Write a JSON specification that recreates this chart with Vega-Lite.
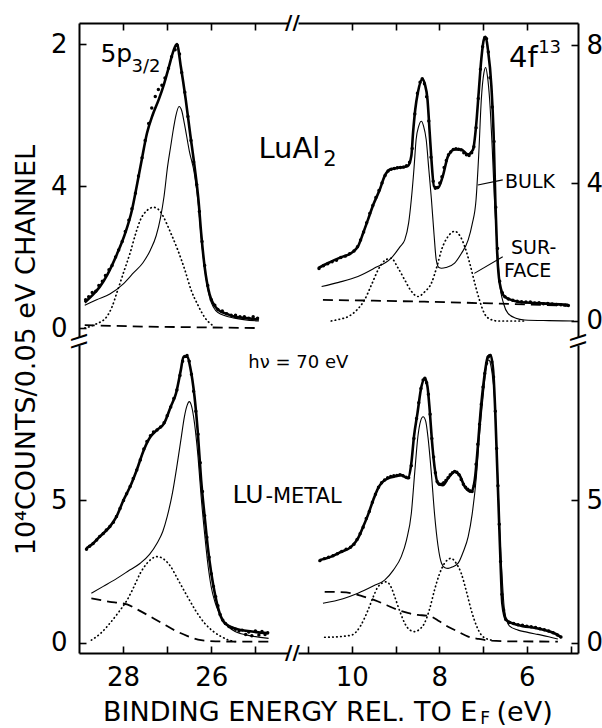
{
"$schema":"https://vega.github.io/schema/vega-lite/v6.json",
"background":"white",
"padding":{"left":12,"top":13,"right":5,"bottom":5},
"bounds":"flush",
"columns":2,
"spacing":{"row":8,"column":10},
"config":{
 "view":{"stroke":null},
 "font":"DejaVu Sans",
 "text":{"color":"black"},
 "line":{"color":"black"},
 "axis":{"domainColor":"black","domainWidth":2,"tickColor":"black","tickWidth":1.6,"tickSize":-7,"labelColor":"black","labelFont":"DejaVu Sans","labelFontSize":26,"grid":false,"labelFlush":false,"labelOverlap":false}
},
"datasets":{
 "TL_fit":[{"E":28.87,"V":0.18},{"E":28.7,"V":0.23},{"E":28.53,"V":0.29},{"E":28.35,"V":0.38},{"E":28.14,"V":0.52},{"E":27.95,"V":0.67},{"E":27.8,"V":0.83},{"E":27.69,"V":1.0},{"E":27.58,"V":1.18},{"E":27.46,"V":1.37},{"E":27.33,"V":1.5},{"E":27.19,"V":1.61},{"E":27.07,"V":1.72},{"E":26.96,"V":1.84},{"E":26.86,"V":1.95},{"E":26.78,"V":2.0},{"E":26.69,"V":1.84},{"E":26.58,"V":1.61},{"E":26.48,"V":1.37},{"E":26.38,"V":1.14},{"E":26.29,"V":0.9},{"E":26.23,"V":0.67},{"E":26.15,"V":0.43},{"E":26.04,"V":0.24},{"E":25.85,"V":0.13},{"E":25.65,"V":0.1},{"E":25.47,"V":0.08},{"E":25.2,"V":0.07},{"E":24.92,"V":0.06}],
 "TL_bulk":[{"E":28.87,"V":0.16},{"E":28.6,"V":0.2},{"E":28.3,"V":0.24},{"E":28.0,"V":0.31},{"E":27.76,"V":0.39},{"E":27.55,"V":0.46},{"E":27.38,"V":0.55},{"E":27.25,"V":0.65},{"E":27.15,"V":0.78},{"E":27.07,"V":0.93},{"E":26.99,"V":1.14},{"E":26.92,"V":1.28},{"E":26.86,"V":1.4},{"E":26.8,"V":1.5},{"E":26.73,"V":1.56},{"E":26.67,"V":1.53},{"E":26.61,"V":1.44},{"E":26.5,"V":1.25},{"E":26.38,"V":1.08},{"E":26.29,"V":0.86},{"E":26.23,"V":0.64},{"E":26.15,"V":0.42},{"E":26.04,"V":0.22},{"E":25.85,"V":0.11},{"E":25.47,"V":0.07},{"E":24.92,"V":0.05}],
 "TL_surf":[{"E":28.87,"V":0.0},{"E":28.6,"V":0.03},{"E":28.37,"V":0.08},{"E":28.25,"V":0.15},{"E":28.14,"V":0.25},{"E":27.98,"V":0.4},{"E":27.84,"V":0.53},{"E":27.72,"V":0.66},{"E":27.61,"V":0.76},{"E":27.45,"V":0.83},{"E":27.31,"V":0.85},{"E":27.18,"V":0.83},{"E":27.08,"V":0.78},{"E":26.92,"V":0.67},{"E":26.76,"V":0.55},{"E":26.6,"V":0.41},{"E":26.46,"V":0.27},{"E":26.3,"V":0.16},{"E":26.16,"V":0.08},{"E":25.93,"V":0.01}],
 "TL_bg":[{"E":28.87,"V":0.02},{"E":27.5,"V":0.01},{"E":24.92,"V":0.0}],
 "TL_pts":[{"E":28.85,"V":0.2},{"E":28.78,"V":0.22},{"E":28.7,"V":0.25},{"E":28.62,"V":0.26},{"E":28.55,"V":0.3},{"E":28.47,"V":0.33},{"E":28.4,"V":0.37},{"E":28.32,"V":0.41},{"E":28.25,"V":0.44},{"E":28.17,"V":0.5},{"E":28.1,"V":0.55},{"E":28.02,"V":0.61},{"E":27.95,"V":0.68},{"E":27.87,"V":0.76},{"E":27.8,"V":0.84},{"E":27.72,"V":0.95},{"E":27.65,"V":1.07},{"E":27.57,"V":1.2},{"E":27.5,"V":1.32},{"E":27.42,"V":1.44},{"E":27.35,"V":1.55},{"E":27.27,"V":1.63},{"E":27.2,"V":1.68},{"E":27.12,"V":1.71},{"E":27.05,"V":1.76},{"E":26.97,"V":1.83},{"E":26.9,"V":1.91},{"E":26.82,"V":1.96},{"E":26.77,"V":1.99},{"E":26.72,"V":1.93},{"E":26.67,"V":1.8},{"E":26.6,"V":1.66},{"E":26.53,"V":1.49},{"E":26.46,"V":1.32},{"E":26.4,"V":1.17},{"E":26.33,"V":1.01},{"E":26.27,"V":0.82},{"E":26.21,"V":0.61},{"E":26.15,"V":0.44},{"E":26.08,"V":0.3},{"E":26.0,"V":0.2},{"E":25.92,"V":0.16},{"E":25.85,"V":0.13},{"E":25.75,"V":0.12},{"E":25.65,"V":0.1},{"E":25.55,"V":0.09},{"E":25.45,"V":0.09},{"E":25.35,"V":0.08},{"E":25.25,"V":0.08},{"E":25.15,"V":0.07},{"E":25.05,"V":0.08},{"E":24.95,"V":0.07}],
 "TR_fit":[{"E":10.77,"V":1.53},{"E":10.54,"V":1.68},{"E":10.24,"V":1.85},{"E":10.01,"V":1.97},{"E":9.86,"V":2.16},{"E":9.74,"V":2.55},{"E":9.63,"V":2.94},{"E":9.51,"V":3.37},{"E":9.36,"V":3.81},{"E":9.25,"V":4.2},{"E":9.13,"V":4.39},{"E":8.94,"V":4.44},{"E":8.72,"V":4.49},{"E":8.64,"V":4.78},{"E":8.6,"V":5.46},{"E":8.55,"V":6.13},{"E":8.49,"V":6.62},{"E":8.39,"V":7.01},{"E":8.33,"V":6.86},{"E":8.27,"V":6.42},{"E":8.22,"V":5.46},{"E":8.18,"V":4.68},{"E":8.12,"V":3.9},{"E":8.03,"V":3.86},{"E":7.92,"V":4.2},{"E":7.8,"V":4.78},{"E":7.65,"V":4.97},{"E":7.5,"V":4.97},{"E":7.35,"V":4.83},{"E":7.23,"V":4.97},{"E":7.16,"V":5.65},{"E":7.1,"V":6.62},{"E":7.04,"V":7.59},{"E":6.98,"V":8.17},{"E":6.94,"V":8.24},{"E":6.89,"V":7.88},{"E":6.81,"V":6.81},{"E":6.76,"V":5.46},{"E":6.72,"V":3.52},{"E":6.68,"V":2.06},{"E":6.62,"V":1.1},{"E":6.51,"V":0.71},{"E":6.2,"V":0.56},{"E":5.67,"V":0.51},{"E":5.06,"V":0.47}],
 "TR_bulk":[{"E":10.69,"V":1.0},{"E":10.3,"V":1.12},{"E":9.86,"V":1.29},{"E":9.5,"V":1.52},{"E":9.1,"V":1.82},{"E":8.9,"V":2.15},{"E":8.79,"V":2.35},{"E":8.7,"V":2.85},{"E":8.64,"V":3.52},{"E":8.58,"V":4.4},{"E":8.53,"V":5.26},{"E":8.47,"V":5.65},{"E":8.41,"V":5.79},{"E":8.36,"V":5.65},{"E":8.3,"V":5.26},{"E":8.24,"V":4.4},{"E":8.18,"V":3.52},{"E":8.12,"V":2.5},{"E":8.07,"V":1.77},{"E":8.01,"V":1.55},{"E":7.95,"V":1.53},{"E":7.85,"V":1.55},{"E":7.65,"V":1.68},{"E":7.5,"V":1.95},{"E":7.34,"V":2.35},{"E":7.25,"V":2.8},{"E":7.16,"V":3.52},{"E":7.1,"V":4.8},{"E":7.04,"V":6.42},{"E":6.98,"V":7.2},{"E":6.94,"V":7.35},{"E":6.9,"V":7.1},{"E":6.85,"V":6.42},{"E":6.79,"V":5.0},{"E":6.74,"V":3.52},{"E":6.68,"V":2.2},{"E":6.62,"V":1.1},{"E":6.53,"V":0.5},{"E":6.43,"V":0.22},{"E":6.25,"V":0.08},{"E":6.05,"V":0.03},{"E":5.5,"V":0.01},{"E":4.92,"V":0.0}],
 "TR_surf":[{"E":10.47,"V":0.0},{"E":10.28,"V":0.05},{"E":10.08,"V":0.13},{"E":9.9,"V":0.3},{"E":9.71,"V":0.61},{"E":9.55,"V":1.05},{"E":9.4,"V":1.48},{"E":9.25,"V":1.75},{"E":9.1,"V":1.82},{"E":8.95,"V":1.55},{"E":8.79,"V":1.19},{"E":8.65,"V":0.88},{"E":8.49,"V":0.71},{"E":8.33,"V":0.85},{"E":8.18,"V":1.1},{"E":8.05,"V":1.6},{"E":7.95,"V":2.06},{"E":7.8,"V":2.45},{"E":7.65,"V":2.6},{"E":7.52,"V":2.45},{"E":7.42,"V":2.16},{"E":7.3,"V":1.65},{"E":7.19,"V":1.1},{"E":7.08,"V":0.6},{"E":6.97,"V":0.22},{"E":6.85,"V":0.06},{"E":6.66,"V":0.0},{"E":6.05,"V":0.0}],
 "TR_bg":[{"E":10.66,"V":0.61},{"E":9.5,"V":0.59},{"E":8.34,"V":0.56},{"E":6.81,"V":0.51},{"E":5.06,"V":0.44}],
 "TR_pts":[{"E":10.75,"V":1.52},{"E":10.65,"V":1.6},{"E":10.55,"V":1.66},{"E":10.45,"V":1.72},{"E":10.35,"V":1.76},{"E":10.25,"V":1.84},{"E":10.15,"V":1.88},{"E":10.05,"V":1.95},{"E":9.95,"V":2.03},{"E":9.87,"V":2.15},{"E":9.8,"V":2.35},{"E":9.73,"V":2.58},{"E":9.66,"V":2.85},{"E":9.59,"V":3.12},{"E":9.52,"V":3.35},{"E":9.45,"V":3.58},{"E":9.38,"V":3.78},{"E":9.31,"V":4.0},{"E":9.24,"V":4.22},{"E":9.17,"V":4.35},{"E":9.1,"V":4.4},{"E":9.03,"V":4.42},{"E":8.96,"V":4.44},{"E":8.89,"V":4.45},{"E":8.82,"V":4.46},{"E":8.75,"V":4.5},{"E":8.68,"V":4.6},{"E":8.62,"V":5.0},{"E":8.56,"V":6.0},{"E":8.5,"V":6.6},{"E":8.44,"V":6.92},{"E":8.39,"V":7.02},{"E":8.34,"V":6.88},{"E":8.29,"V":6.5},{"E":8.24,"V":5.8},{"E":8.19,"V":4.75},{"E":8.14,"V":4.05},{"E":8.09,"V":3.85},{"E":8.04,"V":3.87},{"E":7.99,"V":4.0},{"E":7.94,"V":4.18},{"E":7.89,"V":4.45},{"E":7.84,"V":4.65},{"E":7.79,"V":4.82},{"E":7.74,"V":4.9},{"E":7.68,"V":4.97},{"E":7.62,"V":4.99},{"E":7.56,"V":4.98},{"E":7.5,"V":4.96},{"E":7.44,"V":4.88},{"E":7.38,"V":4.82},{"E":7.32,"V":4.8},{"E":7.26,"V":4.88},{"E":7.21,"V":5.05},{"E":7.16,"V":5.6},{"E":7.11,"V":6.45},{"E":7.06,"V":7.3},{"E":7.01,"V":7.95},{"E":6.96,"V":8.22},{"E":6.92,"V":8.18},{"E":6.88,"V":7.8},{"E":6.84,"V":7.05},{"E":6.79,"V":6.2},{"E":6.75,"V":5.2},{"E":6.71,"V":3.3},{"E":6.67,"V":2.1},{"E":6.62,"V":1.15},{"E":6.56,"V":0.82},{"E":6.5,"V":0.7},{"E":6.42,"V":0.64},{"E":6.32,"V":0.6},{"E":6.22,"V":0.57},{"E":6.12,"V":0.56},{"E":6.02,"V":0.55},{"E":5.92,"V":0.55},{"E":5.82,"V":0.52},{"E":5.72,"V":0.53},{"E":5.62,"V":0.5},{"E":5.52,"V":0.51},{"E":5.42,"V":0.49},{"E":5.32,"V":0.48},{"E":5.22,"V":0.47},{"E":5.12,"V":0.46},{"E":5.05,"V":0.45}],
 "BL_fit":[{"E":28.835,"V":3.31},{"E":28.68,"V":3.48},{"E":28.53,"V":3.72},{"E":28.3,"V":4.07},{"E":28.15,"V":4.42},{"E":27.99,"V":5.0},{"E":27.84,"V":5.47},{"E":27.69,"V":6.05},{"E":27.53,"V":6.75},{"E":27.38,"V":7.21},{"E":27.23,"V":7.45},{"E":27.07,"V":7.68},{"E":26.92,"V":8.26},{"E":26.8,"V":8.73},{"E":26.69,"V":9.55},{"E":26.63,"V":10.01},{"E":26.54,"V":10.01},{"E":26.48,"V":9.66},{"E":26.38,"V":8.61},{"E":26.31,"V":7.45},{"E":26.23,"V":5.7},{"E":26.15,"V":4.42},{"E":26.08,"V":3.37},{"E":26.0,"V":2.44},{"E":25.92,"V":1.74},{"E":25.81,"V":1.04},{"E":25.69,"V":0.69},{"E":25.46,"V":0.51},{"E":25.08,"V":0.4},{"E":24.7,"V":0.34}],
 "BL_bulk":[{"E":28.72,"V":1.74},{"E":28.45,"V":1.98},{"E":28.14,"V":2.26},{"E":27.85,"V":2.55},{"E":27.61,"V":2.79},{"E":27.4,"V":3.1},{"E":27.23,"V":3.49},{"E":27.1,"V":3.9},{"E":27.0,"V":4.42},{"E":26.88,"V":5.25},{"E":26.77,"V":6.28},{"E":26.68,"V":7.2},{"E":26.61,"V":7.91},{"E":26.55,"V":8.3},{"E":26.5,"V":8.44},{"E":26.45,"V":8.3},{"E":26.38,"V":7.68},{"E":26.3,"V":6.5},{"E":26.23,"V":5.12},{"E":26.15,"V":3.8},{"E":26.08,"V":2.79},{"E":26.0,"V":1.95},{"E":25.92,"V":1.45},{"E":25.85,"V":1.15},{"E":25.7,"V":0.72},{"E":25.46,"V":0.4},{"E":25.1,"V":0.25},{"E":24.7,"V":0.16}],
 "BL_surf":[{"E":28.72,"V":0.1},{"E":28.5,"V":0.35},{"E":28.3,"V":0.69},{"E":28.1,"V":1.08},{"E":27.91,"V":1.5},{"E":27.75,"V":1.98},{"E":27.61,"V":2.44},{"E":27.45,"V":2.8},{"E":27.23,"V":3.02},{"E":27.05,"V":2.9},{"E":26.92,"V":2.67},{"E":26.75,"V":2.2},{"E":26.54,"V":1.62},{"E":26.35,"V":1.12},{"E":26.15,"V":0.69},{"E":25.95,"V":0.4},{"E":25.77,"V":0.22},{"E":25.6,"V":0.1},{"E":25.46,"V":0.05}],
 "BL_bg":[{"E":28.72,"V":1.56},{"E":28.5,"V":1.5},{"E":28.3,"V":1.44},{"E":28.1,"V":1.4},{"E":27.91,"V":1.35},{"E":27.65,"V":1.15},{"E":27.38,"V":0.92},{"E":27.1,"V":0.68},{"E":26.84,"V":0.45},{"E":26.55,"V":0.25},{"E":26.23,"V":0.1},{"E":25.9,"V":0.06},{"E":25.46,"V":0.05},{"E":24.7,"V":0.05}],
 "BL_pts":[{"E":28.83,"V":3.28},{"E":28.76,"V":3.38},{"E":28.68,"V":3.48},{"E":28.6,"V":3.6},{"E":28.53,"V":3.72},{"E":28.45,"V":3.83},{"E":28.38,"V":3.95},{"E":28.3,"V":4.07},{"E":28.22,"V":4.22},{"E":28.15,"V":4.42},{"E":28.07,"V":4.7},{"E":27.99,"V":4.98},{"E":27.92,"V":5.22},{"E":27.84,"V":5.47},{"E":27.77,"V":5.75},{"E":27.69,"V":6.05},{"E":27.61,"V":6.4},{"E":27.53,"V":6.78},{"E":27.46,"V":7.05},{"E":27.38,"V":7.25},{"E":27.31,"V":7.38},{"E":27.23,"V":7.45},{"E":27.15,"V":7.55},{"E":27.07,"V":7.7},{"E":27.0,"V":7.95},{"E":26.92,"V":8.25},{"E":26.85,"V":8.55},{"E":26.78,"V":8.85},{"E":26.71,"V":9.35},{"E":26.65,"V":9.85},{"E":26.6,"V":10.02},{"E":26.55,"V":10.05},{"E":26.5,"V":9.85},{"E":26.45,"V":9.4},{"E":26.4,"V":8.8},{"E":26.35,"V":8.1},{"E":26.3,"V":7.3},{"E":26.25,"V":6.3},{"E":26.2,"V":5.3},{"E":26.15,"V":4.45},{"E":26.1,"V":3.7},{"E":26.05,"V":3.0},{"E":26.0,"V":2.42},{"E":25.95,"V":1.98},{"E":25.9,"V":1.62},{"E":25.85,"V":1.3},{"E":25.8,"V":1.0},{"E":25.74,"V":0.8},{"E":25.68,"V":0.68},{"E":25.6,"V":0.58},{"E":25.52,"V":0.52},{"E":25.45,"V":0.48},{"E":25.37,"V":0.42},{"E":25.3,"V":0.45},{"E":25.22,"V":0.3},{"E":25.15,"V":0.38},{"E":25.08,"V":0.25},{"E":25.0,"V":0.42},{"E":24.92,"V":0.28},{"E":24.85,"V":0.4},{"E":24.78,"V":0.3},{"E":24.72,"V":0.36}],
 "BR_fit":[{"E":10.73,"V":2.9},{"E":10.47,"V":3.02},{"E":10.24,"V":3.19},{"E":10.01,"V":3.37},{"E":9.86,"V":3.66},{"E":9.74,"V":4.07},{"E":9.63,"V":4.48},{"E":9.51,"V":5.0},{"E":9.4,"V":5.41},{"E":9.29,"V":5.64},{"E":9.17,"V":5.76},{"E":9.02,"V":5.82},{"E":8.87,"V":5.87},{"E":8.72,"V":5.76},{"E":8.64,"V":6.28},{"E":8.58,"V":7.21},{"E":8.5,"V":8.03},{"E":8.41,"V":8.96},{"E":8.33,"V":9.25},{"E":8.27,"V":8.96},{"E":8.22,"V":8.15},{"E":8.17,"V":7.1},{"E":8.11,"V":6.17},{"E":8.03,"V":5.58},{"E":7.92,"V":5.52},{"E":7.8,"V":5.76},{"E":7.65,"V":5.99},{"E":7.54,"V":5.87},{"E":7.42,"V":5.47},{"E":7.27,"V":5.29},{"E":7.19,"V":5.7},{"E":7.12,"V":6.86},{"E":7.06,"V":8.03},{"E":6.98,"V":9.2},{"E":6.89,"V":10.01},{"E":6.83,"V":10.07},{"E":6.77,"V":9.55},{"E":6.72,"V":8.03},{"E":6.68,"V":6.28},{"E":6.64,"V":4.53},{"E":6.6,"V":2.79},{"E":6.56,"V":1.39},{"E":6.47,"V":0.8},{"E":6.2,"V":0.63},{"E":5.75,"V":0.51},{"E":5.37,"V":0.34},{"E":5.21,"V":0.2}],
 "BR_bulk":[{"E":10.66,"V":1.39},{"E":10.2,"V":1.55},{"E":9.86,"V":1.74},{"E":9.5,"V":2.0},{"E":9.25,"V":2.2},{"E":9.05,"V":2.55},{"E":8.87,"V":3.02},{"E":8.75,"V":3.6},{"E":8.64,"V":4.53},{"E":8.56,"V":6.0},{"E":8.49,"V":7.21},{"E":8.43,"V":7.75},{"E":8.37,"V":7.91},{"E":8.31,"V":7.75},{"E":8.26,"V":7.21},{"E":8.18,"V":5.9},{"E":8.11,"V":4.53},{"E":8.03,"V":3.4},{"E":7.95,"V":2.79},{"E":7.87,"V":2.63},{"E":7.8,"V":2.61},{"E":7.7,"V":2.66},{"E":7.57,"V":2.79},{"E":7.45,"V":3.2},{"E":7.34,"V":3.72},{"E":7.25,"V":4.5},{"E":7.16,"V":5.7},{"E":7.08,"V":7.3},{"E":7.0,"V":8.61},{"E":6.93,"V":9.6},{"E":6.87,"V":9.9},{"E":6.8,"V":9.5},{"E":6.74,"V":8.61},{"E":6.68,"V":6.4},{"E":6.62,"V":3.95},{"E":6.56,"V":2.2},{"E":6.51,"V":1.15},{"E":6.4,"V":0.6},{"E":6.2,"V":0.45},{"E":6.0,"V":0.38},{"E":5.75,"V":0.3},{"E":5.5,"V":0.22},{"E":5.29,"V":0.14}],
 "BR_surf":[{"E":10.62,"V":0.2},{"E":10.3,"V":0.22},{"E":10.0,"V":0.28},{"E":9.8,"V":0.6},{"E":9.63,"V":1.15},{"E":9.5,"V":1.65},{"E":9.4,"V":1.97},{"E":9.21,"V":2.14},{"E":9.1,"V":1.95},{"E":9.02,"V":1.62},{"E":8.9,"V":1.1},{"E":8.79,"V":0.69},{"E":8.67,"V":0.45},{"E":8.56,"V":0.4},{"E":8.45,"V":0.48},{"E":8.34,"V":0.69},{"E":8.22,"V":1.2},{"E":8.11,"V":1.85},{"E":8.0,"V":2.4},{"E":7.88,"V":2.79},{"E":7.73,"V":2.96},{"E":7.62,"V":2.8},{"E":7.5,"V":2.44},{"E":7.38,"V":1.8},{"E":7.27,"V":1.15},{"E":7.15,"V":0.6},{"E":7.04,"V":0.28},{"E":6.92,"V":0.15},{"E":6.81,"V":0.1}],
 "BR_bg":[{"E":10.62,"V":1.79},{"E":10.3,"V":1.78},{"E":10.0,"V":1.74},{"E":9.75,"V":1.63},{"E":9.48,"V":1.5},{"E":9.2,"V":1.32},{"E":8.94,"V":1.15},{"E":8.7,"V":1.04},{"E":8.49,"V":0.98},{"E":8.3,"V":0.96},{"E":8.18,"V":0.92},{"E":8.0,"V":0.76},{"E":7.8,"V":0.57},{"E":7.55,"V":0.38},{"E":7.34,"V":0.22},{"E":7.1,"V":0.14},{"E":6.81,"V":0.08},{"E":6.5,"V":0.06},{"E":5.29,"V":0.05}],
 "BR_pts":[{"E":10.73,"V":2.88},{"E":10.63,"V":2.95},{"E":10.53,"V":3.0},{"E":10.43,"V":3.05},{"E":10.33,"V":3.12},{"E":10.23,"V":3.2},{"E":10.13,"V":3.28},{"E":10.03,"V":3.35},{"E":9.95,"V":3.45},{"E":9.88,"V":3.62},{"E":9.81,"V":3.82},{"E":9.74,"V":4.05},{"E":9.67,"V":4.35},{"E":9.6,"V":4.6},{"E":9.53,"V":4.92},{"E":9.46,"V":5.2},{"E":9.39,"V":5.45},{"E":9.32,"V":5.6},{"E":9.25,"V":5.7},{"E":9.18,"V":5.78},{"E":9.11,"V":5.82},{"E":9.04,"V":5.85},{"E":8.97,"V":5.86},{"E":8.9,"V":5.88},{"E":8.83,"V":5.85},{"E":8.76,"V":5.8},{"E":8.7,"V":5.78},{"E":8.64,"V":6.2},{"E":8.58,"V":7.15},{"E":8.52,"V":7.85},{"E":8.47,"V":8.4},{"E":8.42,"V":8.9},{"E":8.37,"V":9.2},{"E":8.33,"V":9.26},{"E":8.29,"V":9.1},{"E":8.25,"V":8.7},{"E":8.21,"V":8.0},{"E":8.17,"V":7.15},{"E":8.13,"V":6.5},{"E":8.09,"V":5.95},{"E":8.05,"V":5.65},{"E":8.0,"V":5.55},{"E":7.95,"V":5.55},{"E":7.9,"V":5.6},{"E":7.85,"V":5.68},{"E":7.8,"V":5.78},{"E":7.75,"V":5.88},{"E":7.7,"V":5.95},{"E":7.65,"V":6.0},{"E":7.6,"V":5.97},{"E":7.55,"V":5.88},{"E":7.5,"V":5.72},{"E":7.45,"V":5.55},{"E":7.4,"V":5.45},{"E":7.35,"V":5.38},{"E":7.3,"V":5.32},{"E":7.25,"V":5.3},{"E":7.2,"V":5.5},{"E":7.16,"V":6.25},{"E":7.12,"V":6.95},{"E":7.08,"V":7.65},{"E":7.04,"V":8.35},{"E":7.0,"V":8.95},{"E":6.96,"V":9.42},{"E":6.92,"V":9.78},{"E":6.88,"V":10.0},{"E":6.84,"V":10.05},{"E":6.8,"V":9.83},{"E":6.76,"V":9.3},{"E":6.72,"V":8.1},{"E":6.69,"V":6.8},{"E":6.66,"V":5.5},{"E":6.63,"V":4.15},{"E":6.6,"V":2.85},{"E":6.57,"V":1.7},{"E":6.53,"V":1.15},{"E":6.48,"V":0.82},{"E":6.4,"V":0.72},{"E":6.3,"V":0.68},{"E":6.2,"V":0.64},{"E":6.1,"V":0.62},{"E":6.0,"V":0.59},{"E":5.9,"V":0.57},{"E":5.8,"V":0.54},{"E":5.7,"V":0.5},{"E":5.6,"V":0.46},{"E":5.5,"V":0.42},{"E":5.4,"V":0.36},{"E":5.3,"V":0.28},{"E":5.22,"V":0.21}]
},
"concat":[
 {
  "width":209,"height":314,
  "encoding":{
   "x":{"field":"E","type":"quantitative","scale":{"domain":[24.26,29.0],"reverse":true,"nice":false,"zero":false},"axis":{"orient":"top","values":[28,27,26,25],"labels":false,"title":null}},
   "y":{"field":"V","type":"quantitative","scale":{"domain":[-0.063,2.148],"nice":false,"zero":false},"axis":{"orient":"left","values":[0,1,2],"labelExpr":"datum.value == 1 ? '4' : datum.label","labelPadding":19,"title":null}}
  },
  "layer":[
   {"data":{"name":"TL_bg"},"mark":{"type":"line","strokeDash":[10,6],"strokeWidth":1.8,"color":"black"}},
   {"data":{"name":"TL_surf"},"mark":{"type":"line","interpolate":"monotone","strokeDash":[0.5,3.5],"strokeCap":"round","strokeWidth":1.7,"color":"black"}},
   {"data":{"name":"TL_bulk"},"mark":{"type":"line","interpolate":"monotone","strokeWidth":1.1,"color":"black"}},
   {"data":{"name":"TL_pts"},"mark":{"type":"circle","size":12,"opacity":1,"color":"black"}},
   {"data":{"name":"TL_fit"},"mark":{"type":"line","interpolate":"monotone","strokeWidth":2.6,"color":"black"}},
   {"data":{"values":[{"E":28.515,"V":1.873,"t":"5p"}]},"mark":{"type":"text","fontSize":25,"align":"left","baseline":"alphabetic"},"encoding":{"text":{"field":"t"}}},
   {"data":{"values":[{"E":27.81,"V":1.803,"t":"3/2"}]},"mark":{"type":"text","fontSize":18,"align":"left","baseline":"alphabetic"},"encoding":{"text":{"field":"t"}}},
   {"data":{"values":[{"E":24.93,"V":1.197,"t":"LuAl"}]},"mark":{"type":"text","fontSize":29,"align":"left","baseline":"alphabetic"},"encoding":{"text":{"field":"t"}}},
   {"data":{"values":[{"E":23.46,"V":1.141,"t":"2"}]},"mark":{"type":"text","fontSize":21,"align":"left","baseline":"alphabetic"},"encoding":{"text":{"field":"t"}}},
   {"data":{"values":[{"E":30.19,"V":-0.155,"t":"10⁴COUNTS/0.05 eV CHANNEL"}]},"mark":{"type":"text","fontSize":27,"angle":270,"align":"center","baseline":"middle"},"encoding":{"text":{"field":"t"}}},
   {"data":{"values":[{"E":24.16,"V":2.148,"t":"//"}]},"mark":{"type":"text","fontSize":20,"fontWeight":"bold","align":"center","baseline":"middle"},"encoding":{"text":{"field":"t"}}},
   {"data":{"values":[{"E":29.0,"V":-0.092,"t":"\\\\"}]},"mark":{"type":"text","fontSize":20,"fontWeight":"bold","angle":90,"align":"center","baseline":"middle"},"encoding":{"text":{"field":"t"}}}
  ]
 },
 {
  "width":280,"height":314,
  "encoding":{
   "x":{"field":"E","type":"quantitative","scale":{"domain":[4.83,11.23],"reverse":true,"nice":false,"zero":false},"axis":{"orient":"top","values":[10,9,8,7,6],"labels":false,"title":null}},
   "y":{"field":"V","type":"quantitative","scale":{"domain":[-0.464,8.638],"nice":false,"zero":false},"axis":{"orient":"right","values":[0,4,8],"labelPadding":15,"title":null}}
  },
  "layer":[
   {"data":{"name":"TR_bg"},"mark":{"type":"line","strokeDash":[10,6],"strokeWidth":1.8,"color":"black"}},
   {"data":{"name":"TR_surf"},"mark":{"type":"line","interpolate":"monotone","strokeDash":[0.5,3.5],"strokeCap":"round","strokeWidth":1.7,"color":"black"}},
   {"data":{"name":"TR_bulk"},"mark":{"type":"line","interpolate":"monotone","strokeWidth":1.1,"color":"black"}},
   {"data":{"name":"TR_pts"},"mark":{"type":"circle","size":12,"opacity":1,"color":"black"}},
   {"data":{"name":"TR_fit"},"mark":{"type":"line","interpolate":"monotone","strokeWidth":2.6,"color":"black"}},
   {"data":{"values":[{"E":7.12,"V":3.94,"E2":6.55,"V2":4.09},{"E":7.2,"V":1.38,"E2":6.55,"V2":1.86}]},"mark":{"type":"rule","strokeWidth":1.1,"color":"black"},"encoding":{"x2":{"field":"E2"},"y2":{"field":"V2"}}},
   {"data":{"values":[{"E":6.405,"V":7.362,"t":"4f"}]},"mark":{"type":"text","fontSize":29,"align":"left","baseline":"alphabetic"},"encoding":{"text":{"field":"t"}}},
   {"data":{"values":[{"E":5.741,"V":7.768,"t":"13"}]},"mark":{"type":"text","fontSize":18,"align":"left","baseline":"alphabetic"},"encoding":{"text":{"field":"t"}}},
   {"data":{"values":[{"E":6.497,"V":4.029,"t":"BULK"},{"E":6.36,"V":2.116,"t":"SUR-"},{"E":6.52,"V":1.449,"t":"FACE"}]},"mark":{"type":"text","fontSize":19,"align":"left","baseline":"middle"},"encoding":{"text":{"field":"t"}}},
   {"data":{"values":[{"E":4.83,"V":-0.58,"t":"\\\\"}]},"mark":{"type":"text","fontSize":20,"fontWeight":"bold","angle":90,"align":"center","baseline":"middle"},"encoding":{"text":{"field":"t"}}}
  ]
 },
 {
  "width":209,"height":308,
  "encoding":{
   "x":{"field":"E","type":"quantitative","scale":{"domain":[24.26,29.0],"reverse":true,"nice":false,"zero":false},"axis":{"orient":"bottom","values":[28,27,26,25],"labelExpr":"datum.value % 2 == 0 ? datum.label : ''","labelPadding":18,"title":null}},
   "y":{"field":"V","type":"quantitative","scale":{"domain":[-0.35,10.42],"nice":false,"zero":false},"axis":{"orient":"left","values":[0,5],"labelPadding":19,"title":null}}
  },
  "layer":[
   {"data":{"name":"BL_bg"},"mark":{"type":"line","interpolate":"monotone","strokeDash":[10,6],"strokeWidth":1.8,"color":"black"}},
   {"data":{"name":"BL_surf"},"mark":{"type":"line","interpolate":"monotone","strokeDash":[0.5,3.5],"strokeCap":"round","strokeWidth":1.7,"color":"black"}},
   {"data":{"name":"BL_bulk"},"mark":{"type":"line","interpolate":"monotone","strokeWidth":1.1,"color":"black"}},
   {"data":{"name":"BL_pts"},"mark":{"type":"circle","size":12,"opacity":1,"color":"black"}},
   {"data":{"name":"BL_fit"},"mark":{"type":"line","interpolate":"monotone","strokeWidth":2.6,"color":"black"}},
   {"data":{"values":[{"E":25.16,"V":9.615,"t":"hν = 70 eV"}]},"mark":{"type":"text","fontSize":18,"align":"left","baseline":"alphabetic"},"encoding":{"text":{"field":"t"}}},
   {"data":{"values":[{"E":25.52,"V":4.895,"t":"LU"}]},"mark":{"type":"text","fontSize":25,"align":"left","baseline":"alphabetic"},"encoding":{"text":{"field":"t"}}},
   {"data":{"values":[{"E":24.773,"V":4.895,"t":"-METAL"}]},"mark":{"type":"text","fontSize":21,"align":"left","baseline":"alphabetic"},"encoding":{"text":{"field":"t"}}},
   {"data":{"values":[{"E":19.966,"V":-2.727,"t":"BINDING ENERGY REL. TO E"}]},"mark":{"type":"text","fontSize":27,"align":"right","baseline":"alphabetic"},"encoding":{"text":{"field":"t"}}},
   {"data":{"values":[{"E":19.898,"V":-2.832,"t":"F"}]},"mark":{"type":"text","fontSize":17,"align":"left","baseline":"alphabetic"},"encoding":{"text":{"field":"t"}}},
   {"data":{"values":[{"E":19.53,"V":-2.727,"t":"(eV)"}]},"mark":{"type":"text","fontSize":27,"align":"left","baseline":"alphabetic"},"encoding":{"text":{"field":"t"}}},
   {"data":{"values":[{"E":24.16,"V":-0.35,"t":"//"}]},"mark":{"type":"text","fontSize":20,"fontWeight":"bold","align":"center","baseline":"middle"},"encoding":{"text":{"field":"t"}}}
  ]
 },
 {
  "width":280,"height":308,
  "encoding":{
   "x":{"field":"E","type":"quantitative","scale":{"domain":[4.83,11.23],"reverse":true,"nice":false,"zero":false},"axis":{"orient":"bottom","values":[11,10,9,8,7,6,5],"labelExpr":"datum.value % 2 == 0 ? datum.label : ''","labelPadding":18,"title":null}},
   "y":{"field":"V","type":"quantitative","scale":{"domain":[-0.35,10.42],"nice":false,"zero":false},"axis":{"orient":"right","values":[0,5],"labelPadding":15,"title":null}}
  },
  "layer":[
   {"data":{"name":"BR_bg"},"mark":{"type":"line","interpolate":"monotone","strokeDash":[10,6],"strokeWidth":1.8,"color":"black"}},
   {"data":{"name":"BR_surf"},"mark":{"type":"line","interpolate":"monotone","strokeDash":[0.5,3.5],"strokeCap":"round","strokeWidth":1.7,"color":"black"}},
   {"data":{"name":"BR_bulk"},"mark":{"type":"line","interpolate":"monotone","strokeWidth":1.1,"color":"black"}},
   {"data":{"name":"BR_pts"},"mark":{"type":"circle","size":12,"opacity":1,"color":"black"}},
   {"data":{"name":"BR_fit"},"mark":{"type":"line","interpolate":"monotone","strokeWidth":2.6,"color":"black"}}
  ]
 }
]
}
